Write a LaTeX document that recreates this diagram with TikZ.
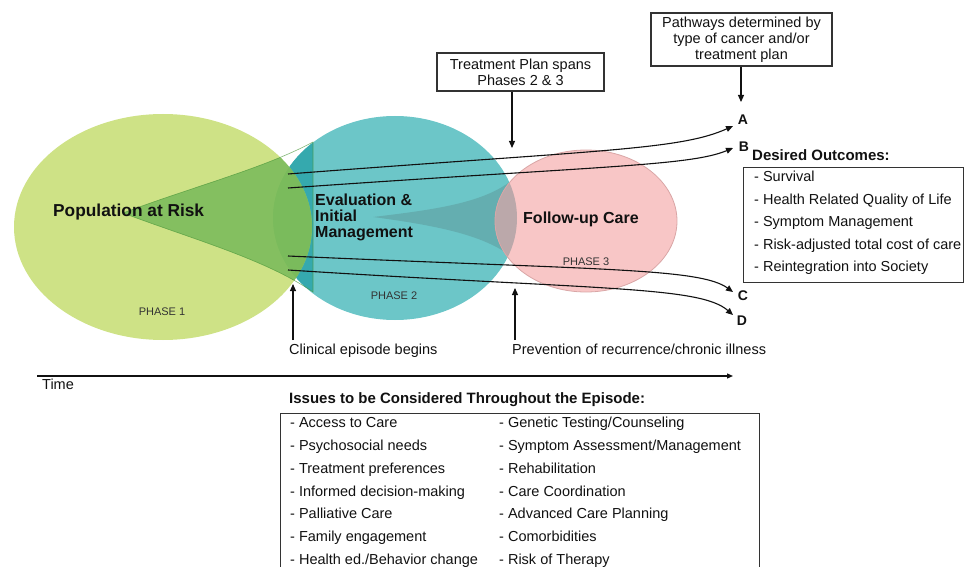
\documentclass[tikz,border=0pt]{standalone}
\usepackage{fontspec}
\setmainfont{Liberation Sans}
\usetikzlibrary{arrows.meta}

\definecolor{riskgreen}{HTML}{C9DF79}
\definecolor{evalteal}{HTML}{6CC6C8}
\definecolor{darkteal}{HTML}{35A9AE}
\definecolor{funnelgreen}{HTML}{3C9E3C}
\definecolor{funneledge}{HTML}{4A963A}
\definecolor{funnelgrey}{HTML}{4D6A6A}
\definecolor{carepink}{HTML}{F8C6C6}
\definecolor{lensgrey}{HTML}{BBA8AA}
\definecolor{pinkedge}{HTML}{D9A6A6}
\definecolor{ink}{HTML}{111111}
\definecolor{frame}{HTML}{333333}

\begin{document}
\begin{tikzpicture}[x=1pt,y=-1pt,
  every node/.style={inner sep=0pt, text=ink},
  body/.style={font=\fontsize{14.5}{16}\selectfont, text height=10.5pt, text depth=3pt},
  boxtext/.style={font=\fontsize{14.5}{16}\selectfont},
  heading/.style={font=\fontsize{15}{17}\selectfont\bfseries, text height=10.8pt, text depth=3pt},
  phase/.style={font=\fontsize{11}{13}\selectfont, text=frame},
  bigbold/.style={font=\fontsize{16}{17}\selectfont\bfseries},
  letter/.style={font=\fontsize{14}{16}\selectfont\bfseries},
  box/.style={draw=frame, line width=1.2pt},
  arr/.style={draw=ink, line width=1.1pt, -{Triangle[length=7pt,width=6pt]}},
  path line/.style={draw=ink, line width=1.1pt, -{Triangle[length=7pt,width=6pt]}},
]
\useasboundingbox (0,0) rectangle (964,567);
\begin{scope}
\clip (0,0) rectangle (964,567);

% Phase 2 ellipse
\fill[evalteal] (395,218) ellipse [x radius=122pt, y radius=102pt];
% mouth of the first funnel inside phase 2
\begin{scope}
  \clip (395,218) ellipse [x radius=122pt, y radius=102pt];
  \fill[darkteal] (123,213) .. controls (192,187) and (265,168) .. (313,142)
    -- (313,292) .. controls (265,259) and (192,239) .. (123,213) -- cycle;
\end{scope}
% Phase 1 ellipse
\fill[riskgreen, opacity=0.9] (163,227) ellipse [x radius=149pt, y radius=113pt];
\begin{scope}
  \clip (163,227) ellipse [x radius=149pt, y radius=113pt];
  \fill[funnelgreen, opacity=0.5] (123,213) .. controls (192,187) and (265,168) .. (313,142)
    -- (313,292) .. controls (265,259) and (192,239) .. (123,213) -- cycle;
\end{scope}
\draw[funneledge, line width=0.6pt, opacity=0.7] (123,213) .. controls (192,187) and (265,168) .. (313,142)
    -- (313,292) .. controls (265,259) and (192,239) .. (123,213) -- cycle;

% second funnel, inside phase 2
\begin{scope}
  \clip (395,218) ellipse [x radius=122pt, y radius=102pt];
  \fill[funnelgrey, opacity=0.25] (373,217) .. controls (440,209) and (490,202) .. (518,175)
    -- (518,262) .. controls (490,236) and (440,226) .. (373,217) -- cycle;
\end{scope}

% Phase 3 ellipse and its overlap with phase 2
\fill[carepink] (586,221) ellipse [x radius=91pt, y radius=71pt];
\begin{scope}
  \clip (586,221) ellipse [x radius=91pt, y radius=71pt];
  \fill[lensgrey] (395,218) ellipse [x radius=122pt, y radius=102pt];
\end{scope}
\draw[pinkedge, line width=0.8pt] (586,221) ellipse [x radius=91pt, y radius=71pt];

% circle labels
\node[font=\fontsize{17.3}{20}\selectfont\bfseries, anchor=west] (pop) at (53,212) {Population at Risk};
\node[bigbold, anchor=west, align=left] (eval) at (315,217) {Evaluation \&\\[-1pt]Initial\\[-1pt]Management};
\node[bigbold, anchor=west] (fup) at (523,219) {Follow-up Care};
\node[phase] (ph1) at (162,312) {PHASE 1};
\node[phase] (ph2) at (394,296) {PHASE 2};
\node[phase] (ph3) at (586,262) {PHASE 3};

% pathway labels
\node[letter] (lA) at (743,120) {A};
\node[letter] (lB) at (744,147) {B};
\node[letter] (lC) at (743,296) {C};
\node[letter] (lD) at (742,321) {D};

% pathway curves
\coordinate (sA) at (288,174); \coordinate (eA) at (733,126);
\coordinate (sB) at (288,188); \coordinate (eB) at (733,148);
\coordinate (sC) at (288,256); \coordinate (eC) at (733,292);
\coordinate (sD) at (288,270); \coordinate (eD) at (733,315);
\draw[path line] (sA) .. controls (600,150) and (680,150) .. (eA);
\draw[path line] (sB) .. controls (600,166) and (690,166) .. (eB);
\draw[path line] (sC) .. controls (600,270) and (700,268) .. (eC);
\draw[path line] (sD) .. controls (600,290) and (700,286) .. (eD);

% callout boxes at the top
\node[box, boxtext, align=center, minimum width=167pt, minimum height=38pt] (plan) at (520.5,72)
  {Treatment Plan spans\\Phases 2 \& 3};
\node[box, boxtext, align=center, minimum width=181pt, minimum height=53pt] (paths) at (741.5,39.5)
  {Pathways determined by\\type of cancer and/or\\treatment plan};
\coordinate (planTip) at (512,148);
\coordinate (pathTip) at (741,102);
\draw[arr] (plan.south -| planTip) -- (planTip);
\draw[arr] (paths.south -| pathTip) -- (pathTip);

% desired outcomes
\node[heading, anchor=west] (outT) at (752,157) {Desired Outcomes:};
\node[box, anchor=north west, minimum width=220pt, minimum height=115pt] (outBox) at (743,167) {};
\foreach \txt [count=\i] in {- Survival, - Health Related Quality of Life, - Symptom Management,
    - Risk-adjusted total cost of care, - Reintegration into Society}
  \node[body, anchor=west] (out\i) at (754,{178+22.5*(\i-1)}) {\txt};

% episode markers
\node[body, anchor=west] (clin) at (289,351) {Clinical episode begins};
\node[body, anchor=west] (prev) at (512,351) {Prevention of recurrence/chronic illness};
\coordinate (clinFoot) at (293,340); \coordinate (clinTip) at (293,284);
\coordinate (prevFoot) at (515,340); \coordinate (prevTip) at (515,288);
\draw[arr] (clinFoot) -- (clinTip);
\draw[arr] (prevFoot) -- (prevTip);

% time axis
\coordinate (t0) at (37,376);
\coordinate (t1) at (733,376);
\draw[draw=ink, line width=1.3pt, -{Triangle[length=6pt,width=5pt]}] (t0) -- (t1);
\node[body, anchor=west] (time) at (42,386) {Time};

% issues list
\node[heading, anchor=west] (issT) at (289,400) {Issues to be Considered Throughout the Episode:};
\node[box, anchor=north west, minimum width=479pt, minimum height=170pt] (issBox) at (280,413) {};
\foreach \txt [count=\i] in {- Access to Care, - Psychosocial needs, - Treatment preferences,
    - Informed decision-making, - Palliative Care, - Family engagement, - Health ed./Behavior change}
  \node[body, anchor=west] (iss\i) at (290,{424+22.8*(\i-1)}) {\txt};
\foreach \txt [count=\i] in {- Genetic Testing/Counseling, - Symptom Assessment/Management, - Rehabilitation,
    - Care Coordination, - Advanced Care Planning, - Comorbidities, - Risk of Therapy}
  \node[body, anchor=west] (jss\i) at (499,{424+22.8*(\i-1)}) {\txt};
\end{scope}
\end{tikzpicture}
\end{document}
